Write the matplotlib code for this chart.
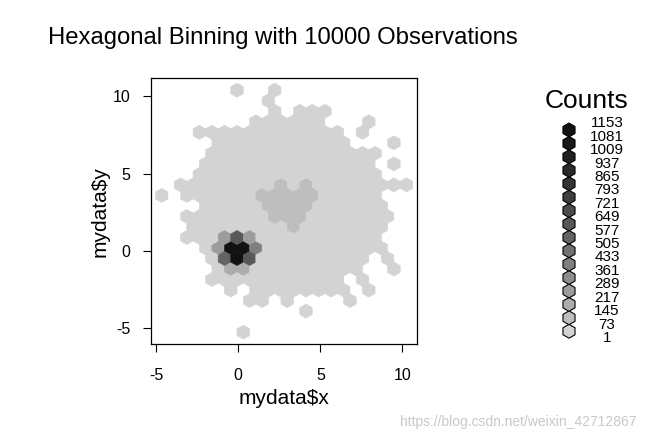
import matplotlib
matplotlib.use("Agg")
import matplotlib.pyplot as plt
import numpy as np
from matplotlib.colors import BoundaryNorm, ListedColormap

plt.rcParams["font.family"] = ["Liberation Sans", "DejaVu Sans"]
plt.rcParams["axes.unicode_minus"] = False

# hexagon lattice (pointy-top cells, as in R hexbin)
hex_width = 0.7643   # x step between neighbouring cells in a row
row_step = 0.680     # y step between rows
x_origin = 0.3045    # centre of cell row 0 / col 0
y_origin = 0.194

# rows from top to bottom; odd rows are shifted half a cell to the left
row_ids = list(range(15, -9, -1))
# filled column ranges (inclusive) of the low-count cells in each row
filled_cols = [
    [(0, 0), (3, 3)],               # 15
    [(2, 2)],                       # 14
    [(3, 3), (5, 7)],               # 13
    [(1, 6), (10, 10)],             # 12
    [(-3, 8), (10, 10)],            # 11
    [(-2, 8), (12, 12)],            # 10
    [(-2, 11)],                     # 9
    [(-3, 10), (12, 12)],           # 8
    [(-3, 11)],                     # 7
    [(-5, 13)],                     # 6
    [(-6, -6), (-4, 11)],           # 5
    [(-3, 11)],                     # 4
    [(-4, 12)],                     # 3
    [(-4, 11)],                     # 2
    [(-4, 11)],                     # 1
    [(-3, 11)],                     # 0
    [(-2, 10), (12, 12)],           # -1
    [(-2, 9), (12, 12)],            # -2
    [(-2, 8), (10, 10)],            # -3
    [(-1, -1), (1, 8), (10, 10)],   # -4
    [(1, 2), (4, 4), (9, 9)],       # -5
    [(5, 5)],                       # -6
    [],                             # -7
    [(0, 0)],                       # -8
]
base_count = 30

# cells with higher counts (row, column, count)
dense_row = [6, 6, 5, 5, 5, 5, 5, 4, 4, 4, 4, 3, 3, 3, 2,
             1, 1, 1, 0, 0, 0, 0, -1, -1, -1, -2, -2]
dense_col = [3, 5, 2, 3, 4, 5, 6, 2, 3, 4, 5, 3, 4, 5, 4,
             -1, 0, 1, -2, -1, 0, 1, -1, 0, 1, -1, 0]
dense_count = [110] * 15 + [250, 620, 250,
                            250, 1120, 1140, 400,
                            560, 1100, 600,
                            180, 180]

legend_labels = np.arange(1, 1154, 72)        # 1, 73, ..., 1153
grays = [211, 190, 172, 156, 141, 127, 113, 100,
         88, 75, 63, 52, 42, 32, 25, 18]
cmap = ListedColormap([(g / 255, g / 255, g / 255) for g in grays])
norm = BoundaryNorm(legend_labels, cmap.N)

cells = {}
for r, ranges in zip(row_ids, filled_cols):
    for c0, c1 in ranges:
        for c in range(c0, c1 + 1):
            cells[(r, c)] = base_count
for r, c, n in zip(dense_row, dense_col, dense_count):
    cells[(r, c)] = n

xs = [x_origin + hex_width * (c - 0.5 * (r % 2)) for r, c in cells]
ys = [y_origin + row_step * r for r, c in cells]
counts = list(cells.values())

first_col, nx, ny = -7, 22, 12
xmin = x_origin + hex_width * first_col
ymin = y_origin + row_step * row_ids[-1]
extent = (xmin, xmin + nx * hex_width, ymin, ymin + ny * 2 * row_step)

fig = plt.figure(figsize=(6.46, 4.42), dpi=100)
ax = fig.add_axes([0.2345, 0.2217, 0.411, 0.6011])
ax.hexbin(xs, ys, C=counts, gridsize=(nx, ny), extent=extent,
          reduce_C_function=np.sum, cmap=cmap, norm=norm,
          edgecolors="face", linewidths=0.4)
ax.set_xlim(-5.286, 10.883)
ax.set_ylim(-6.012, 11.164)
ax.set_xticks([-5, 0, 5, 10])
ax.set_yticks([-5, 0, 5, 10])
ax.tick_params(direction="out", length=6, width=0.8, labelsize=11.5)
ax.tick_params(axis="x", pad=11.5)
ax.tick_params(axis="y", pad=9)
for s in ax.spines.values():
    s.set_linewidth(0.9)
ax.set_xlabel("mydata$x", fontsize=15, labelpad=4)
ax.set_ylabel("mydata$y", fontsize=15, labelpad=2.5)
fig.text(48 / 646, 1 - 38 / 442, "Hexagonal Binning with 10000 Observations",
         fontsize=17.2, ha="left", va="center")

# legend column
leg = fig.add_axes([545 / 646, 0.2202, 95 / 646, 0.516])
leg.set_xlim(0, 95)
leg.set_ylim(-0.5, 16.5)
leg.axis("off")
mids = np.arange(16) + 0.5
leg.scatter(np.full(16, 24), mids, s=100, marker="h", c=cmap.colors,
            edgecolors="black", linewidths=0.8, clip_on=False)
for k, lab in enumerate(legend_labels):
    leg.text(62, k, str(lab), fontsize=11, ha="center", va="center")
leg.text(42, 17.7, "Counts", fontsize=19, ha="center", va="center")

fig.text(0.985, 0.045, "https://blog.csdn.net/weixin_42712867", fontsize=10,
         color="#c8c8c8", ha="right", va="center")

fig.savefig("out.png", dpi=100)
